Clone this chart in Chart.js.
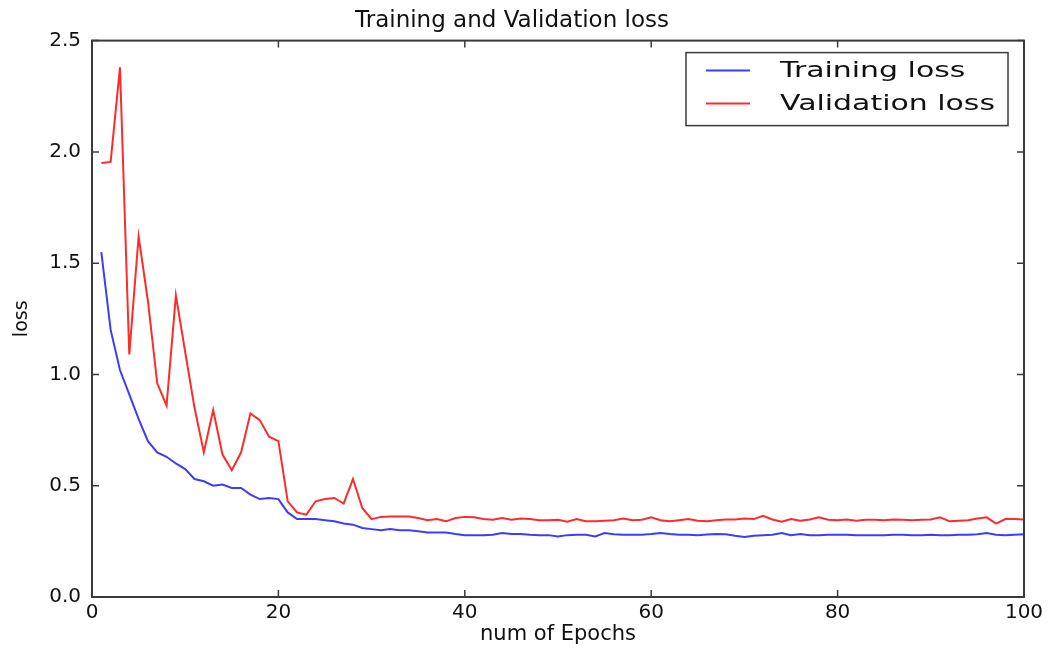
<!DOCTYPE html>
<html lang="en">
<head>
<meta charset="UTF-8">
<title>Training and Validation loss</title>
<script src="https://cdn.jsdelivr.net/npm/chart.js"></script>
<style>
  body { margin: 0; background: #fff; }
  canvas { display: block; }
</style>
</head>
<body>
<canvas id="lossChart" width="1052" height="651"></canvas>
<script>
// epochs 1..100 (category positions on the x axis)
const epochs = Array.from({ length: 100 }, (_, i) => i + 1);

const trainLoss = [
  1.55, 1.20, 1.02, 0.91, 0.80, 0.70, 0.65, 0.63, 0.60, 0.575,
  0.53, 0.52, 0.50, 0.505, 0.49, 0.49, 0.46, 0.44, 0.445, 0.44,
  0.38, 0.35, 0.35, 0.35, 0.345, 0.34, 0.33, 0.325, 0.31, 0.305,
  0.30, 0.305, 0.30, 0.30, 0.295, 0.29, 0.29, 0.29, 0.283, 0.278,
  0.278, 0.278, 0.28, 0.287, 0.283, 0.283, 0.28, 0.278, 0.278, 0.272,
  0.278, 0.28, 0.28, 0.272, 0.287, 0.282, 0.28, 0.28, 0.28, 0.283,
  0.287, 0.283, 0.28, 0.28, 0.278, 0.281, 0.283, 0.282, 0.275, 0.27,
  0.275, 0.278, 0.28, 0.287, 0.278, 0.283, 0.278, 0.278, 0.28, 0.28,
  0.28, 0.278, 0.278, 0.278, 0.278, 0.28, 0.28, 0.278, 0.278, 0.28,
  0.278, 0.278, 0.28, 0.28, 0.282, 0.287, 0.28, 0.278, 0.28, 0.282
];

const valLoss = [
  1.95, 1.955, 2.38, 1.09, 1.62, 1.33, 0.96, 0.86, 1.355, 1.10,
  0.85, 0.65, 0.84, 0.64, 0.57, 0.65, 0.825, 0.795, 0.72, 0.70,
  0.43, 0.38, 0.37, 0.43, 0.44, 0.445, 0.42, 0.53, 0.40, 0.35,
  0.36, 0.362, 0.362, 0.362, 0.355, 0.345, 0.35, 0.34, 0.355, 0.36,
  0.358, 0.35, 0.347, 0.355, 0.347, 0.353, 0.35, 0.345, 0.345, 0.347,
  0.338, 0.35, 0.34, 0.34, 0.343, 0.345, 0.353, 0.345, 0.347, 0.358,
  0.345, 0.34, 0.345, 0.35, 0.343, 0.34, 0.345, 0.348, 0.348, 0.353,
  0.35, 0.365, 0.348, 0.338, 0.35, 0.343, 0.348, 0.358, 0.347, 0.345,
  0.348, 0.343, 0.347, 0.347, 0.345, 0.348, 0.347, 0.345, 0.347, 0.348,
  0.358, 0.34, 0.343, 0.345, 0.353, 0.358, 0.33, 0.35, 0.35, 0.348
];

const xTicks = [0, 20, 40, 60, 80, 100];
const yTicks = [0.0, 0.5, 1.0, 1.5, 2.0, 2.5];

const FONT = 'DejaVu Sans';
const FRAME = '#3a3a3a';

// frame, inward ticks on all four sides and the boxed legend (matplotlib look)
const mplFrame = {
  id: 'mplFrame',
  afterDatasetsDraw(chart) {
    const { ctx, chartArea: a, scales } = chart;
    const tick = 7;
    ctx.save();
    ctx.strokeStyle = FRAME;
    ctx.lineWidth = 2;
    ctx.strokeRect(a.left, a.top, a.right - a.left, a.bottom - a.top);
    ctx.lineWidth = 1.5;
    ctx.beginPath();
    xTicks.forEach(v => {
      const x = scales.x.getPixelForValue(v);
      ctx.moveTo(x, a.bottom); ctx.lineTo(x, a.bottom - tick);
      ctx.moveTo(x, a.top); ctx.lineTo(x, a.top + tick);
    });
    yTicks.forEach(v => {
      const y = scales.y.getPixelForValue(v);
      ctx.moveTo(a.left, y); ctx.lineTo(a.left + tick, y);
      ctx.moveTo(a.right, y); ctx.lineTo(a.right - tick, y);
    });
    ctx.stroke();

    // legend box in the upper right corner
    const box = { left: a.right - 338, top: a.top + 12, width: 322, height: 73 };
    ctx.fillStyle = '#fff';
    ctx.fillRect(box.left, box.top, box.width, box.height);
    ctx.lineWidth = 1.5;
    ctx.strokeRect(box.left, box.top, box.width, box.height);
    chart.data.datasets.forEach((ds, i) => {
      const y = box.top + 18 + i * 33;
      ctx.strokeStyle = ds.borderColor;
      ctx.lineWidth = 2;
      ctx.beginPath();
      ctx.moveTo(box.left + 20, y);
      ctx.lineTo(box.left + 64, y);
      ctx.stroke();
      ctx.save();
      ctx.translate(box.left + 94, y);
      ctx.scale(1.36, 1);
      ctx.fillStyle = '#111';
      ctx.font = '22px "' + FONT + '"';
      ctx.textBaseline = 'middle';
      ctx.fillText(ds.label, 0, 1);
      ctx.restore();
    });
    ctx.restore();
  }
};

new Chart(document.getElementById('lossChart'), {
  type: 'line',
  data: {
    labels: epochs,
    datasets: [
      {
        label: 'Training loss',
        data: trainLoss,
        borderColor: '#3c3cff',
        borderWidth: 2,
        pointRadius: 0,
        tension: 0
      },
      {
        label: 'Validation loss',
        data: valLoss,
        borderColor: '#ff2a2a',
        borderWidth: 2,
        pointRadius: 0,
        tension: 0
      }
    ]
  },
  options: {
    responsive: false,
    animation: false,
    layout: { padding: { left: 0, right: 28, top: 0, bottom: 0 } },
    plugins: {
      legend: { display: false },
      tooltip: { enabled: false },
      title: {
        display: true,
        text: 'Training and Validation loss',
        color: '#111',
        font: { family: FONT, size: 23, weight: 'normal' },
        padding: { top: 7, bottom: 6 }
      }
    },
    scales: {
      x: {
        type: 'linear',
        min: 0,
        max: 100,
        afterBuildTicks: s => { s.ticks = xTicks.map(v => ({ value: v })); },
        afterFit: s => { s.height = 54; },
        grid: { display: false, drawTicks: false },
        border: { display: false },
        ticks: { color: '#111', font: { family: FONT, size: 20 }, padding: 4, maxRotation: 0 },
        title: {
          display: true,
          text: 'num of Epochs',
          color: '#111',
          font: { family: FONT, size: 21 },
          padding: { top: 0, bottom: 4 }
        }
      },
      y: {
        min: 0,
        max: 2.5,
        afterBuildTicks: s => { s.ticks = yTicks.map(v => ({ value: v })); },
        afterFit: s => { s.width = 92; },
        grid: { display: false, drawTicks: false },
        border: { display: false },
        ticks: {
          color: '#111',
          font: { family: FONT, size: 20 },
          padding: 11,
          callback: v => Number(v).toFixed(1)
        },
        title: {
          display: true,
          text: 'loss',
          color: '#111',
          font: { family: FONT, size: 19 },
          padding: { top: 11, bottom: 0 }
        }
      }
    }
  },
  plugins: [mplFrame]
});
</script>
</body>
</html>
